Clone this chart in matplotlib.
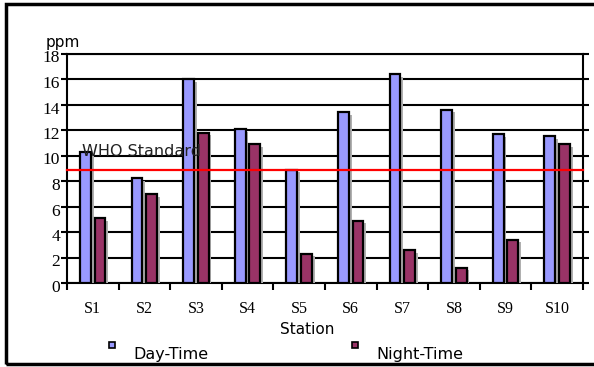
import numpy as np
import matplotlib
matplotlib.use("Agg")
import matplotlib.pyplot as plt
import matplotlib.patheffects as pe
import matplotlib.transforms as mtransforms
from matplotlib.patches import Rectangle

stations = ["S1", "S2", "S3", "S4", "S5", "S6", "S7", "S8", "S9", "S10"]
day_time = [10.3, 8.2, 16.0, 12.1, 8.9, 13.4, 16.4, 13.6, 11.7, 11.5]
night_time = [5.1, 7.0, 11.8, 10.9, 2.3, 4.9, 2.6, 1.2, 3.4, 10.9]
who_standard = 8.9

day_color = "#9999FF"
night_color = "#993366"
serif = "Liberation Serif"

fig = plt.figure(figsize=(5.94, 3.67), dpi=100)
ax = fig.add_axes([67 / 594, 1 - 283 / 367, 516 / 594, (283 - 53.5) / 367])

x = np.arange(len(stations))
shadow = [pe.SimplePatchShadow(offset=(2, -2), shadow_rgbFace="#b0b0b0", alpha=1.0), pe.Normal()]
b1 = ax.bar(x - 0.145, day_time, width=0.21, color=day_color, edgecolor="black", linewidth=1.6, zorder=3)
b2 = ax.bar(x + 0.14, night_time, width=0.21, color=night_color, edgecolor="black", linewidth=1.6, zorder=3)
for bar in list(b1) + list(b2):
    bar.set_path_effects(shadow)

ax.axhline(who_standard, color="red", linewidth=1.6, zorder=4, clip_on=False)
ax.text(-0.21, 10.3, "WHO Standard", fontsize=11.5, va="center", ha="left", color="#222222", zorder=5)

ax.set_xlim(-0.5, len(stations) - 0.5)
ax.set_ylim(0, 18)
ax.set_yticks(np.arange(0, 19, 2))
ax.yaxis.grid(True, color="black", linewidth=1.5, zorder=0)
ax.set_axisbelow(True)
ax.tick_params(axis="y", direction="out", length=4, width=1.5, pad=1, labelsize=12.5, right=True)
# y labels sit a little below their ticks
drop = mtransforms.ScaledTranslation(0, -3 / 100, fig.dpi_scale_trans)
for lbl in ax.get_yticklabels():
    lbl.set_fontfamily(serif)
    lbl.set_transform(lbl.get_transform() + drop)

ax.set_xticks(x)
ax.set_xticklabels(stations, fontfamily=serif, fontsize=11.5)
ax.set_xticks(np.arange(-0.5, len(stations), 1), minor=True)
ax.tick_params(axis="x", which="major", length=0, pad=13)
ax.tick_params(axis="x", which="minor", direction="out", length=5, width=1.5)

for s in ax.spines.values():
    s.set_linewidth(1.5)
    s.set_color("black")

fig.text(63 / 594, 1 - 42 / 367, "ppm", fontsize=11, ha="center", va="center")
fig.text(307 / 594, 1 - 329 / 367, "Station", fontsize=11, ha="center", va="center")

# legend entries drawn by hand
for lx, label, col in [(112, "Day-Time", day_color), (355, "Night-Time", night_color)]:
    fig.patches.append(Rectangle((lx / 594 - 3 / 594, 1 - 348 / 367), 6 / 594, 6 / 367,
                                 transform=fig.transFigure, facecolor=col, edgecolor="black", linewidth=1.2))
    fig.text((lx + 21) / 594, 1 - 355 / 367, label, fontsize=11.5, ha="left", va="center")

# outer frame
fig.patches.append(Rectangle((6 / 594, 1 - 363.5 / 367), 600 / 594, 360 / 367,
                             transform=fig.transFigure, fill=False, edgecolor="black", linewidth=2.5))

fig.savefig("out.png", dpi=100)
